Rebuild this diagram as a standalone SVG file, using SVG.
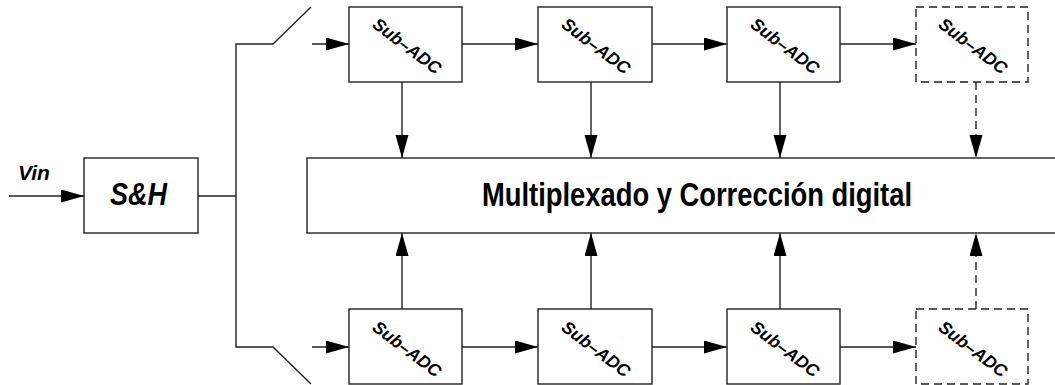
<svg xmlns="http://www.w3.org/2000/svg" width="1055" height="385" viewBox="0 0 1055 385">
  <style>
    .box { fill: #fff; stroke: #222; stroke-width: 1.4; }
    .dash { stroke-dasharray: 8 5; }
    .wire { fill: none; stroke: #222; stroke-width: 1.4; }
    .lbl { font-family: "Liberation Sans", Arial, sans-serif; font-weight: bold; font-style: italic; fill: #000; }
    .sub { font-size: 17.5px; text-anchor: middle; dominant-baseline: central; }
    .main { font-family: "Liberation Sans", Arial, sans-serif; font-weight: bold; font-size: 33px; fill: #000; }
  </style>
  <defs>
    <marker id="arrow" markerUnits="userSpaceOnUse" markerWidth="26" markerHeight="14" refX="23" refY="6.5" orient="auto">
      <path d="M0,0 L23,6.5 L0,13 z" fill="#000"/>
    </marker>
  </defs>

  <rect width="1055" height="385" fill="#fff"/>

  <!-- connectors -->
  <g id="connectors" class="wire">
    <!-- input -->
    <line x1="9" y1="196" x2="84" y2="196" marker-end="url(#arrow)"/>
    <!-- S&H to switch tree -->
    <line x1="198" y1="196" x2="236" y2="196"/>
    <polyline points="311,7 273,44 236,44 236,347 273,347 311,384"/>
    <line x1="312" y1="44" x2="349" y2="44" marker-end="url(#arrow)"/>
    <line x1="312" y1="347" x2="349" y2="347" marker-end="url(#arrow)"/>
    <!-- top pipeline -->
    <line x1="462" y1="44" x2="538" y2="44" marker-end="url(#arrow)"/>
    <line x1="652" y1="44" x2="727" y2="44" marker-end="url(#arrow)"/>
    <line x1="840" y1="44" x2="916" y2="44" marker-end="url(#arrow)"/>
    <!-- bottom pipeline -->
    <line x1="462" y1="347" x2="538" y2="347" marker-end="url(#arrow)"/>
    <line x1="652" y1="347" x2="727" y2="347" marker-end="url(#arrow)"/>
    <line x1="840" y1="347" x2="916" y2="347" marker-end="url(#arrow)"/>
    <!-- top stages to correction block -->
    <line x1="402" y1="82" x2="402" y2="158" marker-end="url(#arrow)"/>
    <line x1="591" y1="82" x2="591" y2="158" marker-end="url(#arrow)"/>
    <line x1="780" y1="82" x2="780" y2="158" marker-end="url(#arrow)"/>
    <line class="dash" x1="976" y1="82" x2="976" y2="158" marker-end="url(#arrow)"/>
    <!-- bottom stages to correction block -->
    <line x1="402" y1="309" x2="402" y2="233" marker-end="url(#arrow)"/>
    <line x1="591" y1="309" x2="591" y2="233" marker-end="url(#arrow)"/>
    <line x1="780" y1="309" x2="780" y2="233" marker-end="url(#arrow)"/>
    <line class="dash" x1="976" y1="309" x2="976" y2="233" marker-end="url(#arrow)"/>
  </g>

  <text class="lbl" x="18" y="180" font-size="21">Vin</text>

  <g id="sh">
    <rect class="box" x="84" y="158" width="114" height="75"/>
    <text class="lbl" x="110" y="205" font-size="32" textLength="57" lengthAdjust="spacingAndGlyphs">S&amp;H</text>
  </g>

  <g id="correction">
    <rect class="box" x="307" y="158" width="760" height="75"/>
    <text class="main" x="482" y="206" textLength="430" lengthAdjust="spacingAndGlyphs">Multiplexado y Corrección digital</text>
  </g>

  <!-- upper Sub-ADC chain -->
  <g id="adc-t1">
    <rect class="box" x="349" y="7" width="113" height="75"/>
    <text class="lbl sub" transform="translate(407,46) rotate(37)">Sub–ADC</text>
  </g>
  <g id="adc-t2">
    <rect class="box" x="538" y="7" width="114" height="75"/>
    <text class="lbl sub" transform="translate(596,46) rotate(37)">Sub–ADC</text>
  </g>
  <g id="adc-t3">
    <rect class="box" x="727" y="7" width="113" height="75"/>
    <text class="lbl sub" transform="translate(785,46) rotate(37)">Sub–ADC</text>
  </g>
  <g id="adc-t4">
    <rect class="box dash" x="916" y="7" width="112" height="75"/>
    <text class="lbl sub" transform="translate(973,46) rotate(37)">Sub–ADC</text>
  </g>

  <!-- lower Sub-ADC chain -->
  <g id="adc-b1">
    <rect class="box" x="349" y="309" width="113" height="75"/>
    <text class="lbl sub" transform="translate(407,349) rotate(37)">Sub–ADC</text>
  </g>
  <g id="adc-b2">
    <rect class="box" x="538" y="309" width="114" height="75"/>
    <text class="lbl sub" transform="translate(596,349) rotate(37)">Sub–ADC</text>
  </g>
  <g id="adc-b3">
    <rect class="box" x="727" y="309" width="113" height="75"/>
    <text class="lbl sub" transform="translate(785,349) rotate(37)">Sub–ADC</text>
  </g>
  <g id="adc-b4">
    <rect class="box dash" x="916" y="309" width="112" height="75"/>
    <text class="lbl sub" transform="translate(973,349) rotate(37)">Sub–ADC</text>
  </g>
</svg>
